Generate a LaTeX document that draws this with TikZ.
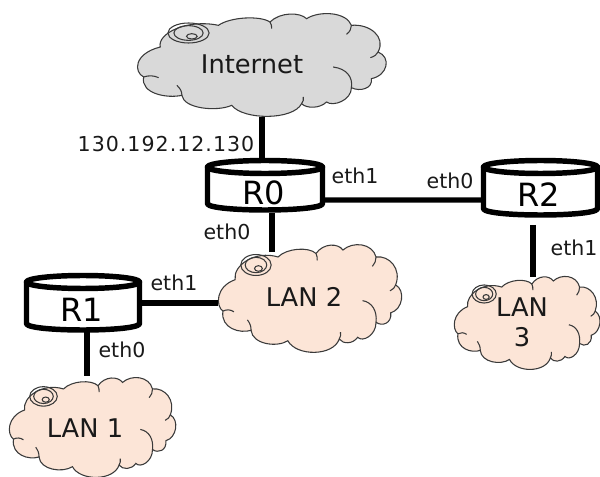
\documentclass[tikz,border=0pt]{standalone}
\usepackage{fontspec}
\setmainfont{DejaVu Sans}
\usetikzlibrary{backgrounds}
\definecolor{cloudgray}{HTML}{D9D9D9}
\definecolor{cloudpeach}{HTML}{FCE5D7}
\definecolor{cloudline}{HTML}{3A3A3A}
\tikzset{
  area/.style={inner sep=0pt,outer sep=0pt,rectangle},
  link/.style={line width=3.9pt,black},
  rlabel/.style={font=\fontsize{24}{26}\selectfont,inner sep=0pt},
  iflabel/.style={font=\fontsize{15.4}{18}\selectfont,inner sep=0pt,text=black!90},
  cloudlabel/.style={font=\fontsize{19.3}{22}\selectfont,inner sep=0pt,text=black!90},
  routerline/.style={line width=4.1pt,black,line join=round},
  cloudstroke/.style={line width=0.8pt,cloudline}
}
% fill colour, x0, y0, x1, y1 (pixels)
\newcommand{\cloudshape}[5]{%
  \pgfmathsetmacro{\cx}{(#4-#2)/755}%
  \pgfmathsetmacro{\cy}{(#5-#3)/315}%
  \begin{scope}[shift={(#2,#3)},xscale=\cx,yscale=\cy,shift={(-20,-35)}]
    \draw[cloudstroke,fill=#1] (90,140) .. controls (80,100) and (170,55) .. (265,75)
      .. controls (300,50) and (390,45) .. (420,65)
      .. controls (450,35) and (510,35) .. (530,55)
      .. controls (570,30) and (650,35) .. (665,75)
      .. controls (720,70) and (770,110) .. (745,155)
      .. controls (785,170) and (775,225) .. (725,235)
      .. controls (730,265) and (690,275) .. (665,262)
      .. controls (665,300) and (610,320) .. (590,305)
      .. controls (570,325) and (530,325) .. (515,310)
      .. controls (490,360) and (340,360) .. (305,315)
      .. controls (260,335) and (160,325) .. (155,285)
      .. controls (110,295) and (30,280) .. (40,230)
      .. controls (10,215) and (10,160) .. (90,140) -- cycle;
    \draw[cloudstroke] (610,200) .. controls (650,205) and (670,230) .. (665,262);
    \draw[cloudstroke] (155,285) .. controls (155,272) and (150,265) .. (140,255);
    \draw[cloudstroke] (40,230) .. controls (55,225) and (70,225) .. (85,232);
    \draw[cloudstroke] (745,155) .. controls (742,162) and (735,168) .. (722,172);
    \draw[cloudstroke] (515,310) .. controls (520,303) and (522,298) .. (520,290);
    \draw[cloudstroke] (420,65) .. controls (424,72) and (426,78) .. (425,85);
    \draw[cloudstroke] (665,75) .. controls (665,85) and (660,95) .. (650,102);
    \draw[cloudstroke] (175,98) ellipse [x radius=62,y radius=30];
    \draw[cloudstroke] (175,98) ellipse [x radius=44,y radius=22];
    \draw[cloudstroke] (185,108) ellipse [x radius=16,y radius=8];
  \end{scope}}
% x0, y0, x1, y1 of the outer outline (pixels)
\newcommand{\routershape}[4]{%
  \pgfmathsetmacro{\rl}{#1+2.5}\pgfmathsetmacro{\rr}{#3-2.5}%
  \pgfmathsetmacro{\rt}{#2+9}\pgfmathsetmacro{\rb}{#4-9}%
  \pgfmathsetmacro{\rm}{(#1+#3)/2}\pgfmathsetmacro{\rw}{(#3-#1)/2-2.5}%
  \draw[routerline,fill=white] (\rl,\rt) -- (\rl,\rb)
     .. controls (\rl+5,#4-1) and (\rr-5,#4-1) .. (\rr,\rb) -- (\rr,\rt) -- cycle;
  \draw[routerline,fill=white] (\rm,\rt) ellipse [x radius=\rw,y radius=6.5];}
\begin{document}
\begin{tikzpicture}[x=0.75pt,y=-0.75pt]
\useasboundingbox (0,0) rectangle (600,477);
% areas of the clouds
\node[area,minimum width=188.25pt,minimum height=78.75pt] (inet) at (262.5,64.5) {};
\node[area,minimum width=138.75pt,minimum height=82.5pt] (lan2) at (310.5,298) {};
\node[area,minimum width=126pt,minimum height=76.5pt] (lan1) at (93,427) {};
\node[area,minimum width=110.25pt,minimum height=71.25pt] (lan3) at (527.5,322.5) {};
% routers
\node[area,minimum width=90pt,minimum height=41.25pt] (r0) at (264.5,185.5) {};
\node[area,minimum width=88.5pt,minimum height=45pt] (r1) at (83,303) {};
\node[area,minimum width=89.25pt,minimum height=45pt] (r2) at (540.5,188) {};
\begin{scope}[on background layer]
  \cloudshape{cloudgray}{137}{12}{388}{117}
  \cloudshape{cloudpeach}{218}{243}{403}{353}
  \cloudshape{cloudpeach}{9}{376}{177}{478}
  \cloudshape{cloudpeach}{454}{275}{601}{370}
  \routershape{205}{158}{325}{213}
  \routershape{24}{273}{142}{333}
  \routershape{481}{158}{600}{218}
\end{scope}
% connectors
\draw[link] (inet.south -| 262,0) -- (r0.north -| 262,0);
\draw[link] ([yshift=-10.9pt]r0.east) -- ([yshift=-9pt]r2.west);
\draw[link] ([xshift=5.6pt]r0.south) -- ([xshift=5.6pt]r0.south |- 0,252);
\draw[link] (r1.east) -- (r1.east -| lan2.west);
\draw[link] ([xshift=3pt,yshift=4pt]r1.south) -- ([xshift=3pt]r1.south |- lan1.north);
\draw[link] ([yshift=-5.25pt]r2.south -| 533,0) -- ([yshift=-1.5pt]lan3.north -| 533,0);
% texts
\node[rlabel] (t0) at (264,193) {R0};
\node[rlabel] (t1) at (82,310) {R1};
\node[rlabel] (t2) at (539,195) {R2};
\node[cloudlabel] (ti) at (252,64) {Internet};
\node[cloudlabel] (tl1) at (85,428) {LAN 1};
\node[cloudlabel] (tl2) at (304,297) {LAN 2};
\node[cloudlabel,align=center,font=\fontsize{19.3}{22.5}\selectfont] (tl3) at (522,322) {LAN\\3};
\node[iflabel,font=\fontsize{15.4}{18}\selectfont\addfontfeature{LetterSpace=5}] (ip) at (166,144) {130.192.12.130};
\node[iflabel] (e1) at (355,176) {eth1};
\node[iflabel] (e2) at (450,181) {eth0};
\node[iflabel] (e3) at (227,232) {eth0};
\node[iflabel] (e4) at (174,283) {eth1};
\node[iflabel] (e5) at (122,350) {eth0};
\node[iflabel] (e6) at (574,248) {eth1};
\end{tikzpicture}
\end{document}
